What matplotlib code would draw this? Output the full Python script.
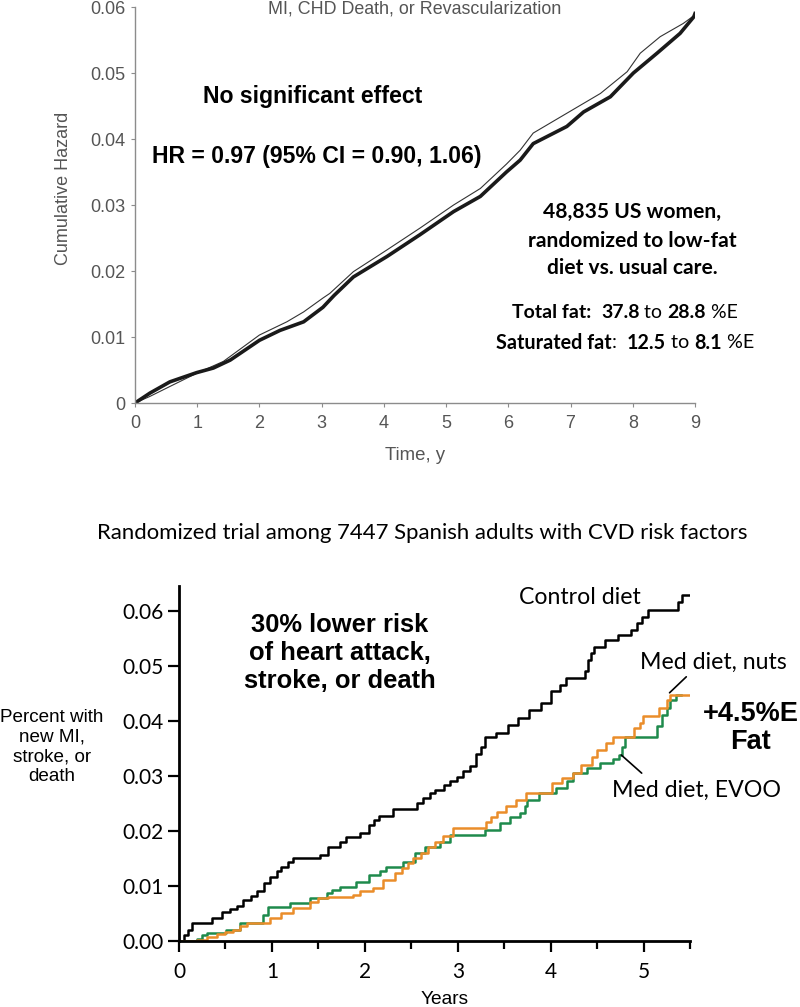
import matplotlib
matplotlib.use("Agg")
import matplotlib.pyplot as plt
from matplotlib.ticker import FixedLocator

# ---------------------------------------------------------------------------
# Data
# ---------------------------------------------------------------------------
# top panel: cumulative hazard, two arms
thick_t = [0, 0.24, 0.56, 0.99, 1.26, 1.53, 2.0, 2.33, 2.71, 3.02, 3.2, 3.51,
           4.05, 4.58, 5.12, 5.55, 5.97, 6.19, 6.4, 6.94, 7.21, 7.64, 8.01,
           8.39, 8.76, 8.98, 9.0]
thick_v = [0, 0.0015, 0.0032, 0.0046, 0.0053, 0.0065, 0.0095, 0.011, 0.0123,
           0.0145, 0.0163, 0.0191, 0.0222, 0.0255, 0.029, 0.0313, 0.035,
           0.0368, 0.0393, 0.0419, 0.0441, 0.0464, 0.05, 0.053, 0.056,
           0.0585, 0.059]
thin_t = [0, 0.24, 0.56, 0.99, 1.42, 2.0, 2.44, 2.71, 3.02, 3.13, 3.51, 4.05,
          4.58, 5.12, 5.55, 5.97, 6.19, 6.4, 6.94, 7.48, 7.91, 8.12, 8.44,
          8.81, 9.0]
thin_v = [0, 0.001, 0.0025, 0.0045, 0.0063, 0.0103, 0.0123, 0.0138, 0.0159,
          0.0166, 0.0199, 0.0232, 0.0265, 0.03, 0.0325, 0.0362, 0.0383,
          0.0409, 0.0439, 0.0469, 0.0502, 0.053, 0.0555, 0.0575, 0.0588]
top_yticks = [0, 0.01, 0.02, 0.03, 0.04, 0.05, 0.06]
top_ylabels = ["0", "0.01", "0.02", "0.03", "0.04", "0.05", "0.06"]
top_xticks = list(range(10))

# bottom panel: step curves
ctrl_t = [0, 0.05, 0.1, 0.14, 0.35, 0.46, 0.55, 0.62, 0.69, 0.78, 0.84, 0.92,
          0.98, 1.05, 1.1, 1.17, 1.23, 1.52, 1.6, 1.73, 1.8, 1.95, 2.05, 2.1,
          2.15, 2.3, 2.56, 2.63, 2.7, 2.75, 2.85, 2.92, 2.99, 3.06, 3.13, 3.2,
          3.25, 3.29, 3.41, 3.54, 3.65, 3.77, 3.9, 4.0, 4.1, 4.17, 4.37, 4.4,
          4.43, 4.47, 4.58, 4.72, 4.87, 4.93, 4.98, 5.05, 5.37, 5.41, 5.5]
ctrl_v = [0, 0.001, 0.002, 0.0033, 0.0042, 0.0053, 0.0058, 0.0064, 0.0075,
          0.0082, 0.009, 0.0105, 0.0117, 0.0127, 0.0135, 0.0143, 0.0151,
          0.0157, 0.0171, 0.018, 0.0189, 0.0197, 0.021, 0.022, 0.0228, 0.024,
          0.025, 0.026, 0.0268, 0.0275, 0.0283, 0.029, 0.0298, 0.0308, 0.0318,
          0.034, 0.0353, 0.037, 0.0378, 0.0393, 0.0405, 0.042, 0.0433, 0.0455,
          0.0465, 0.0478, 0.049, 0.051, 0.0523, 0.0535, 0.0547, 0.0556,
          0.0565, 0.0578, 0.0589, 0.0602, 0.0616, 0.0629, 0.0629]
nuts_t = [0, 0.19, 0.3, 0.41, 0.5, 0.58, 0.66, 0.73, 0.98, 1.1, 1.23, 1.41,
          1.5, 1.6, 1.87, 1.95, 2.09, 2.2, 2.32, 2.4, 2.47, 2.52, 2.6, 2.68,
          2.76, 2.84, 2.95, 3.3, 3.36, 3.42, 3.52, 3.63, 3.74, 4.02, 4.12,
          4.24, 4.33, 4.44, 4.5, 4.6, 4.67, 4.9, 4.96, 4.99, 5.17, 5.25, 5.28,
          5.5]
nuts_v = [0, 0.0002, 0.0008, 0.0012, 0.0016, 0.002, 0.0027, 0.0033, 0.0042,
          0.0051, 0.006, 0.0071, 0.0078, 0.008, 0.0084, 0.009, 0.0096, 0.011,
          0.0123, 0.0132, 0.0142, 0.015, 0.016, 0.0171, 0.018, 0.019, 0.0205,
          0.0217, 0.0226, 0.0235, 0.0245, 0.0256, 0.0269, 0.0287, 0.0296,
          0.0305, 0.032, 0.0335, 0.0347, 0.036, 0.0371, 0.0387, 0.0396,
          0.0408, 0.0424, 0.0438, 0.0447, 0.0447]
evoo_t = [0, 0.19, 0.25, 0.3, 0.51, 0.66, 0.9, 0.96, 1.2, 1.41, 1.59, 1.65,
          1.73, 1.91, 2.05, 2.16, 2.23, 2.41, 2.54, 2.65, 2.81, 2.92, 3.29,
          3.45, 3.56, 3.67, 3.72, 3.75, 3.88, 4.06, 4.18, 4.24, 4.39, 4.53,
          4.67, 4.74, 4.77, 4.8, 5.14, 5.2, 5.25, 5.28, 5.35, 5.4]
evoo_v = [0, 0.0003, 0.001, 0.0015, 0.002, 0.0033, 0.0047, 0.0062, 0.0069,
          0.0078, 0.0087, 0.0092, 0.0098, 0.0107, 0.012, 0.0127, 0.0135,
          0.0144, 0.016, 0.0171, 0.018, 0.0193, 0.0202, 0.0214, 0.0226,
          0.0233, 0.0245, 0.0256, 0.0269, 0.0278, 0.029, 0.0305, 0.0314,
          0.0323, 0.033, 0.0338, 0.0353, 0.037, 0.039, 0.041, 0.0424, 0.0438,
          0.0447, 0.0447]
bot_yticks = [0, 0.01, 0.02, 0.03, 0.04, 0.05, 0.06]
bot_xticks = [0, 1, 2, 3, 4, 5]

W, H = 800, 1007
fig = plt.figure(figsize=(W / 100, H / 100), dpi=100)


def fx(px):
    return px / W


def fy(py):
    return 1 - py / H


# ---------------------------------------------------------------------------
# Top panel
# ---------------------------------------------------------------------------
GRAY = "#8c8c8c"
TXT_GRAY = "#555555"
ax1 = fig.add_axes([fx(135), fy(403), fx(695) - fx(135), fy(7) - fy(403)])
ax1.plot(thin_t, thin_v, color="#333333", lw=0.8)
ax1.plot(thick_t, thick_v, color="#1a1a1a", lw=2.6)
ax1.set_xlim(0, 9)
ax1.set_ylim(0, 0.06)
ax1.set_yticks(top_yticks)
ax1.set_yticklabels(top_ylabels)
ax1.set_xticks(top_xticks)
for s in ["top", "right"]:
    ax1.spines[s].set_visible(False)
for s in ["left", "bottom"]:
    ax1.spines[s].set_color(GRAY)
    ax1.spines[s].set_linewidth(1.0)
ax1.tick_params(direction="out", length=3, width=0.8, color=GRAY,
                labelcolor=TXT_GRAY, labelsize=13)
ax1.tick_params(axis="y", pad=4)
ax1.tick_params(axis="x", pad=6)
for lab in ax1.get_xticklabels() + ax1.get_yticklabels():
    lab.set_family("Liberation Sans")
ax1.set_ylabel("Cumulative Hazard", color=TXT_GRAY, fontsize=13,
               family="Liberation Sans")
ax1.yaxis.set_label_coords(-0.1125, 0.543)
ax1.set_xlabel("Time, y", color=TXT_GRAY, fontsize=13.4,
               family="Liberation Sans")
ax1.xaxis.set_label_coords(0.5, -0.111)

fig.text(fx(415), fy(9), "MI, CHD Death, or Revascularization", ha="center",
         va="center", color=TXT_GRAY, fontsize=12.9, family="Liberation Sans")

fig.text(fx(313), fy(97), "No significant effect", ha="center", va="center",
         fontsize=16.6, fontweight="bold", family="Liberation Sans")
fig.text(fx(317), fy(157), "HR = 0.97 (95% CI = 0.90, 1.06)", ha="center",
         va="center", fontsize=16.6, fontweight="bold",
         family="Liberation Sans")

for txt, py in [("48,835 US women,", 212), ("randomized to low-fat", 241),
                ("diet vs. usual care.", 268)]:
    fig.text(fx(632), fy(py), txt, ha="center", va="center", fontsize=15.1,
             fontweight="bold", family="Lato")

renderer = fig.canvas.get_renderer()


def mixed_line(parts, cx, py, size):
    """Draw runs of text with different weights, centred on cx (pixels)."""
    items = []
    for s, w in parts:
        t = fig.text(0, fy(py), s, ha="left", va="center", fontsize=size,
                     fontweight=w, family="Lato")
        items.append(t)
    widths = [t.get_window_extent(renderer).width for t in items]
    x = cx - sum(widths) / 2
    for t, w in zip(items, widths):
        t.set_x(fx(x))
        x += w


mixed_line([("Total fat:  ", "bold"), ("37.8", "bold"), (" to ", "normal"),
            ("28.8", "bold"), (" %E", "normal")], 625, 313, 14)
mixed_line([("Saturated fat", "bold"), (":  ", "normal"), ("12.5", "bold"),
            (" to ", "normal"), ("8.1", "bold"), (" %E", "normal")],
           625, 343, 14.2)

# ---------------------------------------------------------------------------
# Bottom panel
# ---------------------------------------------------------------------------
fig.text(fx(422), fy(533),
         "Randomized trial among 7447 Spanish adults with CVD risk factors",
         ha="center", va="center", fontsize=15.9, family="Lato")

ax2 = fig.add_axes([fx(179), fy(941), fx(690) - fx(179), fy(586) - fy(941)])
ax2.step(ctrl_t, ctrl_v, where="post", color="black", lw=1.8)
ax2.step(evoo_t, evoo_v, where="post", color="#1e8a4c", lw=1.8)
ax2.step(nuts_t, nuts_v, where="post", color="#ea8d2a", lw=1.8)
ax2.set_xlim(0, 5.5)
ax2.set_ylim(0, 0.0645)
ax2.set_yticks(bot_yticks)
ax2.set_yticklabels([f"{v:.2f}" for v in bot_yticks])
ax2.set_xticks(bot_xticks)
ax2.set_xticklabels([str(v) for v in bot_xticks])
ax2.xaxis.set_minor_locator(FixedLocator([0.5, 1.5, 2.5, 3.5, 4.5, 5.5]))
for s in ["top", "right"]:
    ax2.spines[s].set_visible(False)
for s in ["left", "bottom"]:
    ax2.spines[s].set_linewidth(2)
ax2.tick_params(which="major", direction="out", length=8, width=1.6,
                labelsize=15)
ax2.tick_params(which="minor", direction="out", length=6, width=1.6)
ax2.tick_params(axis="y", pad=3)
ax2.tick_params(axis="x", pad=7)
for lab in ax2.get_xticklabels() + ax2.get_yticklabels():
    lab.set_family("Lato")

fig.text(fx(52), fy(747), "Percent with\nnew MI,\nstroke, or\ndeath",
         ha="center", va="center", fontsize=13.6, linespacing=1.2,
         family="Liberation Sans")
fig.text(fx(445), fy(1000), "Years", ha="center", va="center", fontsize=13.8,
         family="Liberation Sans")

fig.text(fx(340), fy(653), "30% lower risk\nof heart attack,\nstroke, or death",
         ha="center", va="center", fontsize=18.4, fontweight="bold",
         linespacing=1.2, family="Liberation Sans")

fig.text(fx(580), fy(598), "Control diet", ha="center", va="center",
         fontsize=16.7, family="Lato")
fig.text(fx(713), fy(662), "Med diet, nuts", ha="center", va="center",
         fontsize=16.7, family="Lato")
fig.text(fx(696), fy(790), "Med diet, EVOO", ha="center", va="center",
         fontsize=16.7, family="Lato")
fig.text(fx(751), fy(728), "+4.5%E\nFat", ha="center", va="center",
         fontsize=19.5, fontweight="bold", linespacing=1.1,
         family="Liberation Sans")

# leader lines from labels to curves
ax2.annotate("", xy=(5.28, 0.0451), xytext=(5.46, 0.048),
             arrowprops=dict(arrowstyle="-", color="black", lw=1.2,
                             shrinkA=0, shrinkB=0))
ax2.annotate("", xy=(4.76, 0.0338), xytext=(4.98, 0.0305),
             arrowprops=dict(arrowstyle="-", color="black", lw=1.2,
                             shrinkA=0, shrinkB=0))

fig.savefig("out.png", dpi=100)
